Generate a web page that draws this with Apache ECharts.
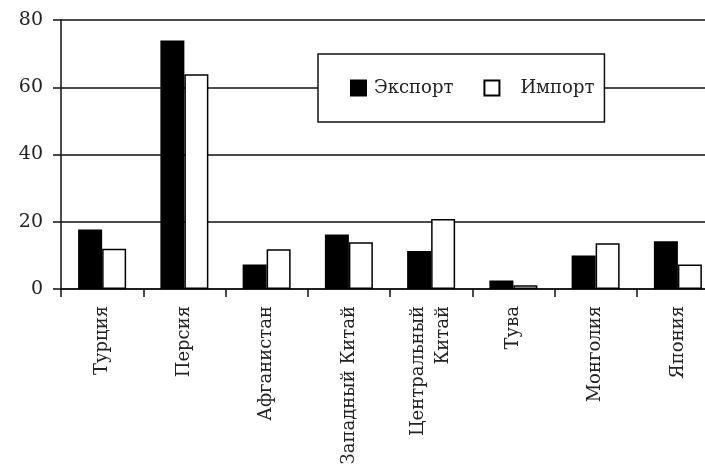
<!DOCTYPE html>
<html>
<head>
<meta charset="utf-8">
<script src="https://cdn.jsdelivr.net/npm/echarts@6/dist/echarts.min.js"></script>
<style>
  html, body { margin: 0; padding: 0; background: #fff; }
  #chart { width: 705px; height: 467px; }
</style>
</head>
<body>
<div id="chart"></div>
<script>
const categories = ['Турция', 'Персия', 'Афганистан', 'Западный Китай', 'Центральный\nКитай', 'Тува', 'Монголия', 'Япония'];
const exportValues = [17.7, 73.9, 7.3, 16.2, 11.3, 2.5, 10.0, 14.2];
const importValues = [12.0, 63.9, 11.8, 13.9, 20.8, 1.1, 13.6, 7.3];
const yTicks = [0, 20, 40, 60, 80];

const FONT = 'DejaVu Serif';
const legendText = { fontFamily: FONT, fontSize: 18, color: '#222' };
const chart = echarts.init(document.getElementById('chart'), null, { renderer: 'canvas' });
chart.setOption({
  backgroundColor: '#fff',
  animation: false,
  grid: { left: 61, top: 20, width: 658, height: 269, outerBoundsMode: 'none', containLabel: false },
  legend: {
    left: 318, top: 54,
    backgroundColor: '#fff',
    borderColor: '#111', borderWidth: 1.5,
    padding: [25, 10, 25, 32],
    itemGap: 30,
    itemWidth: 15, itemHeight: 15,
    icon: 'rect',
    formatter: function (name) {
      return name === 'Импорт' ? '{b|' + name + '}' : '{a|' + name + '}';
    },
    textStyle: Object.assign({}, legendText, {
      rich: {
        a: Object.assign({}, legendText, { padding: [0, 0, 0, 3] }),
        b: Object.assign({}, legendText, { padding: [0, 0, 0, 16] })
      }
    }),
    data: ['Экспорт', 'Импорт']
  },
  xAxis: {
    type: 'category',
    data: categories,
    axisLine: { lineStyle: { color: '#111', width: 1.5 } },
    axisTick: { show: true, length: 8, alignWithLabel: false, lineStyle: { color: '#111', width: 1.5 } },
    axisLabel: { interval: 0, rotate: 90, margin: 17, fontFamily: FONT, fontSize: 18, color: '#222', lineHeight: 25 }
  },
  yAxis: {
    type: 'value',
    min: yTicks[0], max: yTicks[yTicks.length - 1], interval: 20,
    axisLine: { show: true, lineStyle: { color: '#111', width: 1.5 } },
    axisTick: { show: true, length: 8, lineStyle: { color: '#111', width: 1.5 } },
    axisLabel: { margin: 18, fontFamily: FONT, fontSize: 19, color: '#222' },
    splitLine: { show: true, lineStyle: { color: '#111', width: 1.5 } }
  },
  series: [
    {
      name: 'Экспорт', type: 'bar', data: exportValues,
      barWidth: 24, barGap: '0%',
      itemStyle: { color: '#000', borderColor: '#000', borderWidth: 1.5 }
    },
    {
      name: 'Импорт', type: 'bar', data: importValues,
      barWidth: 24, barGap: '0%',
      itemStyle: { color: '#fff', borderColor: '#000', borderWidth: 1.5 }
    }
  ]
});
</script>
</body>
</html>
